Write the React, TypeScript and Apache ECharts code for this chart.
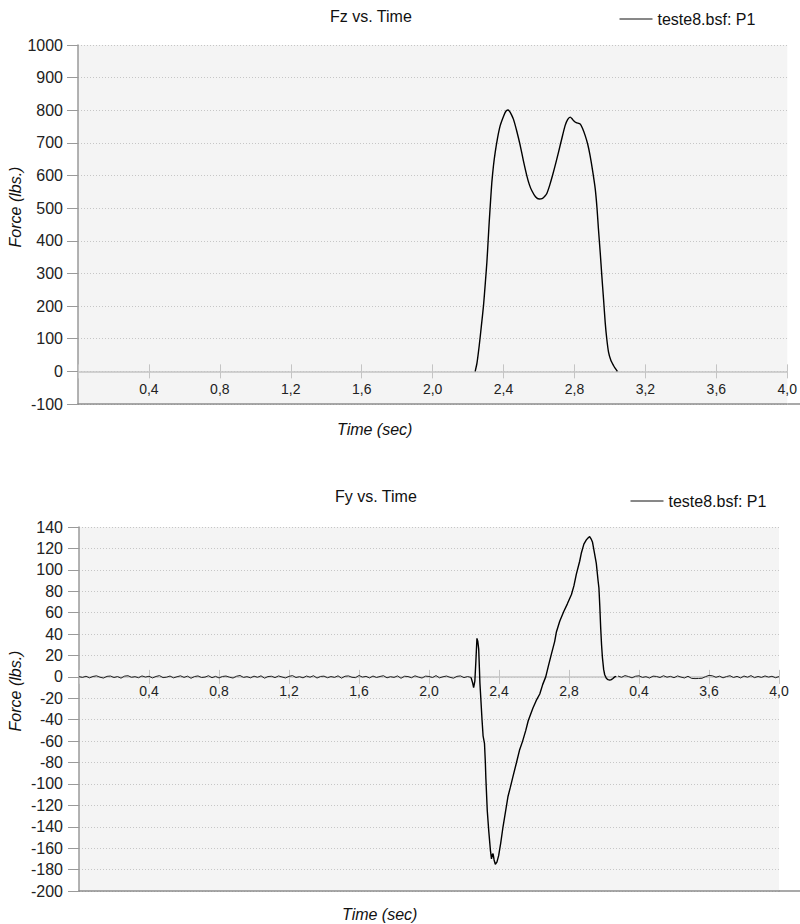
import React, { useEffect, useRef } from 'react';
import * as echarts from 'echarts';

const SERIES_NAME = 'teste8.bsf: P1';
const FONT = '"Liberation Sans", Arial, Helvetica, sans-serif';

const titleTop = 'Fz vs. Time';
const titleBottom = 'Fy vs. Time';
const yName = 'Force (lbs.)';
const xName = 'Time (sec)';

const xTickLabelsTop = ['0,4', '0,8', '1,2', '1,6', '2,0', '2,4', '2,8', '3,2', '3,6', '4,0'];
const xTickLabelsBottom = ['0,4', '0,8', '1,2', '1,6', '2,0', '2,4', '2,8', '0,4', '3,6', '4,0'];

// Fz vs Time
const fzTime = [2.24, 2.25, 2.263, 2.275, 2.287, 2.297, 2.306, 2.313, 2.319, 2.327, 2.334, 2.343, 2.353, 2.366, 2.381, 2.4, 2.413, 2.424, 2.435, 2.445, 2.456, 2.475, 2.494, 2.512, 2.531, 2.545, 2.559, 2.58, 2.601, 2.62, 2.635, 2.644, 2.66, 2.676, 2.693, 2.71, 2.728, 2.747, 2.762, 2.776, 2.785, 2.794, 2.81, 2.832, 2.845, 2.86, 2.875, 2.888, 2.903, 2.917, 2.927, 2.935, 2.945, 2.954, 2.964, 2.973, 2.982, 2.992, 3.005, 3.02, 3.03, 3.042];
const fzForce = [0, 25, 80, 140, 202, 270, 335, 400, 457, 525, 580, 630, 672, 715, 753, 782, 797, 801, 796, 786, 772, 735, 692, 645, 600, 573, 554, 535, 528, 530, 538, 545, 570, 600, 635, 672, 712, 753, 772, 779, 775, 769, 762, 758, 745, 723, 695, 661, 612, 559, 500, 437, 365, 294, 220, 151, 100, 59, 34, 18, 9, 0];

// Fy vs Time: baseline noise sampled every 0.02 s
const fyNoiseStep = 0.02;
const fyNoiseBeforeStart = 0;
const fyNoiseBefore = [
  0.2, -0.5, 0.6, -0.9, 0.4, 1.0, -0.3, -1.1, 0.5, 0.8,
  -0.6, 0.3, -1.2, 0.7, 1.1, -0.4, 0.2, -0.8, 0.9, -0.2,
  0.6, -1.0, 0.4, 1.2, -0.7, -0.3, 0.8, -0.9, 0.1, 1.0,
  -0.5, 0.7, -1.3, 0.3, 0.9, -0.6, -0.2, 1.1, -0.8, 0.5,
  -1.0, 0.4, 0.8, -0.3, -1.1, 0.6, 1.3, -0.5, 0.2, -0.9,
  0.7, -0.4, 1.0, -1.2, 0.3, 0.6, -0.7, 0.9, -0.1, -1.0,
  0.5, 1.2, -0.6, 0.2, -0.9, 0.8, -0.3, 1.1, -1.1, 0.4,
  0.7, -0.8, 0.3, -0.5, 1.0, -1.2, 0.6, 0.9, -0.4, -0.7,
  1.3, -0.2, 0.5, -1.0, 0.8, -0.6, 0.4, 1.1, -0.9, 0.2,
  -0.5, 0.9, -1.3, 0.6, 0.3, -0.8, 1.0, -0.2, -1.1, 0.7,
  0.4, -0.6, 1.2, -0.9, 0.1, 0.8, -0.4, -1.2, 0.5, 0.9,
  -0.7, 0.3, -0.5,
];
const fyEventTime = [2.24, 2.25, 2.255, 2.262, 2.268, 2.274, 2.279, 2.284, 2.288, 2.291, 2.296, 2.303, 2.309, 2.317, 2.322, 2.325, 2.333, 2.342, 2.351, 2.357, 2.362, 2.366, 2.372, 2.379, 2.388, 2.398, 2.41, 2.423, 2.437, 2.451, 2.465, 2.48, 2.5, 2.518, 2.535, 2.553, 2.567, 2.594, 2.613, 2.633, 2.65, 2.667, 2.682, 2.699, 2.718, 2.728, 2.747, 2.77, 2.79, 2.814, 2.828, 2.842, 2.861, 2.871, 2.885, 2.899, 2.91, 2.918, 2.926, 2.934, 2.945, 2.956, 2.966, 2.971, 2.976, 2.981, 2.986, 2.991, 2.998, 3.004, 3.014, 3.023, 3.033, 3.042, 3.051, 3.061, 3.07];
const fyEventForce = [-0.5, -6, -10, -4, 15, 36, 33, 26, 8, -6, -20, -40, -55, -62, -80, -95, -125, -145, -162, -170, -166, -165, -171, -175, -173, -167, -155, -140, -126, -112, -103, -93, -80, -68, -60, -50, -41, -29, -22, -16, -7, 0, 10, 21, 33, 42, 52, 61, 68, 77, 85, 96, 108, 116, 124, 128, 130, 131, 129, 126, 116, 106, 90, 83, 66, 46, 30, 18, 7, 2, -1.5, -2.5, -3, -2.5, -1.5, 0, 0.5];
const fyNoiseAfterStart = 3.08;
const fyNoiseAfter = [
  0.8, -0.4, 1.2, 0.3, -0.9, 0.6, 1.0, -0.5, 0.2, -1.1,
  0.7, 0.4, -0.6, 1.1, -0.3, 0.5, -0.8, 0.9, -0.2, -1.0,
  0.6, -1.4, -1.6, -1.5, -1.3, 0.2, 1.4, 1.0, -0.4, 0.7,
  -0.9, 0.3, 1.1, -0.6, 0.5, -1.0, 0.8, -0.3, 1.2, -0.7,
  0.4, -0.5, 0.9, -0.2, 0.6, -0.8, 0.3,
];

const X_MIN = 0;
const X_MAX = 4;
const X_INTERVAL = 0.4;
const TOP_Y = { min: -100, max: 1000, interval: 100 };
const BOT_Y = { min: -200, max: 140, interval: 20 };

const GRID_TOP = { left: 78, top: 45, width: 710, height: 359 };
const GRID_BOT = { left: 79, top: 527, width: 700, height: 364 };

const pairs = (ts: number[], vs: number[]) => ts.map((t, i) => [t, vs[i]]);
const sampled = (start: number, vs: number[]) =>
  vs.map((v, i) => [Math.round((start + i * fyNoiseStep) * 1000) / 1000, v]);

const tickFormatter = (labels: string[]) => (v: number) => {
  const i = Math.round(v / X_INTERVAL);
  return i === 0 ? '' : labels[i - 1] || '';
};

function xAxesFor(gridIndex: number, grid: any, yr: any, labels: string[], labelMargin: number) {
  const zeroOffset = (grid.height * (0 - yr.min)) / (yr.max - yr.min);
  const base = { gridIndex, type: 'value', min: X_MIN, max: X_MAX, interval: X_INTERVAL, position: 'bottom', splitLine: { show: false } };
  return [
    {
      ...base,
      offset: -zeroOffset,
      axisLine: { show: true, onZero: false, lineStyle: { color: '#c4c4c4', width: 1.5 } },
      axisTick: { show: true, inside: false, length: 7, lineStyle: { color: '#c4c4c4', width: 1 } },
      axisLabel: { show: true, margin: labelMargin, formatter: tickFormatter(labels), color: '#222', fontSize: 14, fontFamily: FONT },
    },
    {
      ...base,
      offset: -zeroOffset,
      axisLine: { show: false, onZero: false },
      axisTick: { show: true, inside: true, length: 7, lineStyle: { color: '#c4c4c4', width: 1 } },
      axisLabel: { show: false },
    },
    {
      ...base,
      offset: 0,
      axisLine: { show: true, onZero: false, lineStyle: { color: '#8c8c8c', width: 1.5 } },
      axisTick: { show: false },
      axisLabel: { show: false },
    },
  ];
}

function yAxisFor(gridIndex: number, yr: any, margin: number) {
  return {
    gridIndex,
    type: 'value',
    min: yr.min,
    max: yr.max,
    interval: yr.interval,
    axisLine: { show: true, onZero: false, lineStyle: { color: '#9a9a9a', width: 1.5 } },
    axisTick: { show: true, inside: false, length: 11, lineStyle: { color: '#9a9a9a', width: 1 } },
    axisLabel: { margin, color: '#222', fontSize: 16, fontFamily: FONT, formatter: (v: number) => String(v) },
    splitLine: { show: true, lineStyle: { color: '#c6c6c6', width: 1, type: [1, 2] } },
  };
}

export default function App() {
  const ref = useRef<HTMLDivElement>(null);
  useEffect(() => {
    if (!ref.current) return;
    const chart = echarts.init(ref.current, undefined, { renderer: 'svg' });
    const legendBase = {
      orient: 'horizontal',
      padding: 0,
      itemWidth: 33,
      itemHeight: 14,
      selectedMode: false,
      data: [SERIES_NAME],
      itemStyle: { opacity: 0 },
      lineStyle: { color: '#111', width: 1 },
      textStyle: { fontSize: 16, color: '#111', fontFamily: FONT },
    };
    const lineStyleMain = { color: '#000', width: 1.4 };
    const option: any = {
      animation: false,
      color: ['#000'],
      textStyle: { fontFamily: FONT },
      title: [
        { text: titleTop, left: 330, top: 8, padding: 0, textStyle: { fontSize: 16, fontWeight: 'normal', color: '#111', fontFamily: FONT } },
        { text: titleBottom, left: 335, top: 488, padding: 0, textStyle: { fontSize: 16, fontWeight: 'normal', color: '#111', fontFamily: FONT } },
      ],
      legend: [
        { ...legendBase, left: 619, top: 11 },
        { ...legendBase, left: 630, top: 493 },
      ],
      grid: [
        { ...GRID_TOP, show: true, backgroundColor: '#f4f4f4', borderWidth: 0, containLabel: false },
        { ...GRID_BOT, show: true, backgroundColor: '#f4f4f4', borderWidth: 0, containLabel: false },
      ],
      xAxis: [
        ...xAxesFor(0, GRID_TOP, TOP_Y, xTickLabelsTop, 11),
        ...xAxesFor(1, GRID_BOT, BOT_Y, xTickLabelsBottom, 7),
      ],
      yAxis: [yAxisFor(0, TOP_Y, 15), yAxisFor(1, BOT_Y, 16)],
      series: [
        {
          type: 'line', name: SERIES_NAME, xAxisIndex: 0, yAxisIndex: 0,
          data: pairs(fzTime, fzForce), symbol: 'none', smooth: 0.2,
          lineStyle: lineStyleMain, silent: true,
        },
        {
          type: 'line', name: SERIES_NAME, xAxisIndex: 3, yAxisIndex: 1,
          data: sampled(fyNoiseBeforeStart, fyNoiseBefore), symbol: 'none',
          lineStyle: { color: '#222', width: 1 }, silent: true,
        },
        {
          type: 'line', name: SERIES_NAME, xAxisIndex: 3, yAxisIndex: 1,
          data: pairs(fyEventTime, fyEventForce), symbol: 'none',
          lineStyle: lineStyleMain, silent: true,
        },
        {
          type: 'line', name: SERIES_NAME, xAxisIndex: 3, yAxisIndex: 1,
          data: sampled(fyNoiseAfterStart, fyNoiseAfter), symbol: 'none',
          lineStyle: { color: '#222', width: 1 }, silent: true,
        },
      ],
      graphic: [
        { type: 'text', x: 15, y: 207, rotation: Math.PI / 2, style: { text: yName, fontSize: 16, fontStyle: 'italic', fontFamily: FONT, fill: '#111', align: 'center', verticalAlign: 'middle' } },
        { type: 'text', x: 15, y: 691, rotation: Math.PI / 2, style: { text: yName, fontSize: 16, fontStyle: 'italic', fontFamily: FONT, fill: '#111', align: 'center', verticalAlign: 'middle' } },
        { type: 'text', x: 337, y: 429, style: { text: xName, fontSize: 16, fontStyle: 'italic', fontFamily: FONT, fill: '#111', align: 'left', verticalAlign: 'middle' } },
        { type: 'text', x: 342, y: 914, style: { text: xName, fontSize: 16, fontStyle: 'italic', fontFamily: FONT, fill: '#111', align: 'left', verticalAlign: 'middle' } },
        { type: 'line', shape: { x1: GRID_TOP.left + GRID_TOP.width, y1: GRID_TOP.top + GRID_TOP.height, x2: 800, y2: GRID_TOP.top + GRID_TOP.height }, style: { stroke: '#8c8c8c', lineWidth: 1.5 } },
        { type: 'line', shape: { x1: GRID_BOT.left + GRID_BOT.width, y1: GRID_BOT.top + GRID_BOT.height, x2: 800, y2: GRID_BOT.top + GRID_BOT.height }, style: { stroke: '#8c8c8c', lineWidth: 1.5 } },
      ],
    };
    chart.setOption(option);
    return () => chart.dispose();
  }, []);
  return <div ref={ref} style={{ position: 'absolute', left: 0, top: 0, width: 800, height: 924 }} />;
}
